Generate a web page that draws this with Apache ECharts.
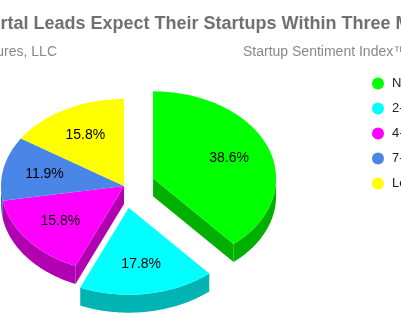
<!DOCTYPE html>
<html>
<head>
<meta charset="utf-8">
<script src="https://cdn.jsdelivr.net/npm/echarts@6/dist/echarts.min.js"></script>
<style>
html,body{margin:0;padding:0;background:#fff;}
#chart{width:401px;height:335px;}
</style>
</head>
<body>
<div id="chart"></div>
<script>
// ---- data ----
const categories = ['Now', '2-3 Years', '4-6 Years', '7-10 Years', 'Longer'];
const shares = [38.6, 17.8, 15.8, 11.9, 15.8];
const exploded = [true, true, false, false, false];
const titleText = 'Portal Leads Expect Their Startups Within Three Months';
const subLeft = 'Portal Ventures, LLC';
const subRight = 'Startup Sentiment Index\u2122';

// ---- style ----
const topColors = ['#00ff00', '#00ffff', '#ff00ff', '#4a86e8', '#ffff00'];
const sideColors = ['#00b000', '#00b4b4', '#b000b0', '#3566b4', '#b4b400'];
const CX = 124, CY = 186, RX = 123, RY = 87, H = 18, D = 31, LABEL_K = 0.66;

const total = shares.reduce((a, b) => a + b, 0);
const starts = [];
let acc = 0;
shares.forEach(v => { starts.push(acc / total * Math.PI * 2); acc += v; });

function makeRender(i) {
  return function (params, api) {
    const v = api.value(0);
    const s = starts[i];
    const e = s + v / total * Math.PI * 2;
    const mid = (s + e) / 2;
    const ox = exploded[i] ? D * Math.sin(mid) : 0;
    const oy = exploded[i] ? -D * Math.cos(mid) * RY / RX : 0;
    const cx = CX + ox, cy = CY + oy;
    const pt = (t, dz) => [cx + RX * Math.sin(t), cy - RY * Math.cos(t) + (dz || 0)];
    const arc = (a0, a1, dz) => {
      const n = Math.max(2, Math.ceil(Math.abs(a1 - a0) / (Math.PI / 180)));
      const out = [];
      for (let k = 0; k <= n; k++) out.push(pt(a0 + (a1 - a0) * k / n, dz));
      return out;
    };
    const children = [];
    const n = shares.length;
    const prevEx = exploded[(i - 1 + n) % n], nextEx = exploded[(i + 1) % n];
    // cut faces
    if ((exploded[i] || prevEx) && Math.sin(s) < -1e-6) {
      const p = pt(s);
      children.push({type: 'polygon', z2: 1, shape: {points: [[cx, cy], p, [p[0], p[1] + H], [cx, cy + H]]}, style: {fill: sideColors[i]}});
    }
    if ((exploded[i] || nextEx) && Math.sin(e) > 1e-6) {
      const p = pt(e);
      children.push({type: 'polygon', z2: 1, shape: {points: [[cx, cy], p, [p[0], p[1] + H], [cx, cy + H]]}, style: {fill: sideColors[i]}});
    }
    // outer side
    const lo = Math.max(s, Math.PI / 2), hi = Math.min(e, Math.PI * 1.5);
    if (lo < hi) {
      const pts = arc(lo, hi, 0).concat(arc(hi, lo, H));
      children.push({type: 'polygon', z2: 2, shape: {points: pts}, style: {fill: sideColors[i]}});
    }
    // top face
    children.push({type: 'polygon', z2: 5, shape: {points: [[cx, cy]].concat(arc(s, e, 0))}, style: {fill: topColors[i]}});
    // label
    const lp = [cx + LABEL_K * RX * Math.sin(mid), cy - LABEL_K * RY * Math.cos(mid)];
    children.push({type: 'text', z2: 10, x: lp[0], y: lp[1], style: {text: v.toFixed(1) + '%', fill: '#000', font: '14px "Liberation Sans", Arial, sans-serif', align: 'center', verticalAlign: 'middle'}});
    return {type: 'group', children: children};
  };
}

const series = categories.map((c, i) => ({
  type: 'custom',
  name: c,
  coordinateSystem: 'none',
  renderItem: makeRender(i),
  data: [[shares[i]]],
  silent: true
}));

const chart = echarts.init(document.getElementById('chart'), null, {renderer: 'canvas'});
chart.setOption({
  animation: false,
  color: topColors,
  legend: {
    orient: 'vertical',
    left: 367, top: 72,
    icon: 'circle',
    itemWidth: 20, itemHeight: 12, itemGap: 12,
    textStyle: {fontSize: 13, lineHeight: 12, color: '#222', fontFamily: '"Liberation Sans", Arial, sans-serif', padding: [0, 0, 0, -1]},
    data: categories
  },
  graphic: [
    {type: 'text', x: -22.5, y: 24, style: {text: titleText, font: 'bold 18px "Liberation Sans", Arial, sans-serif', fill: '#707070', verticalAlign: 'middle'}},
    {type: 'text', x: 57, y: 52, style: {text: subLeft, font: '14px "Liberation Sans", Arial, sans-serif', fill: '#888', align: 'right', verticalAlign: 'middle'}},
    {type: 'text', x: 243, y: 52, style: {text: subRight, font: '14px "Liberation Sans", Arial, sans-serif', fill: '#888', verticalAlign: 'middle'}}
  ],
  series: series
});
</script>
</body>
</html>
